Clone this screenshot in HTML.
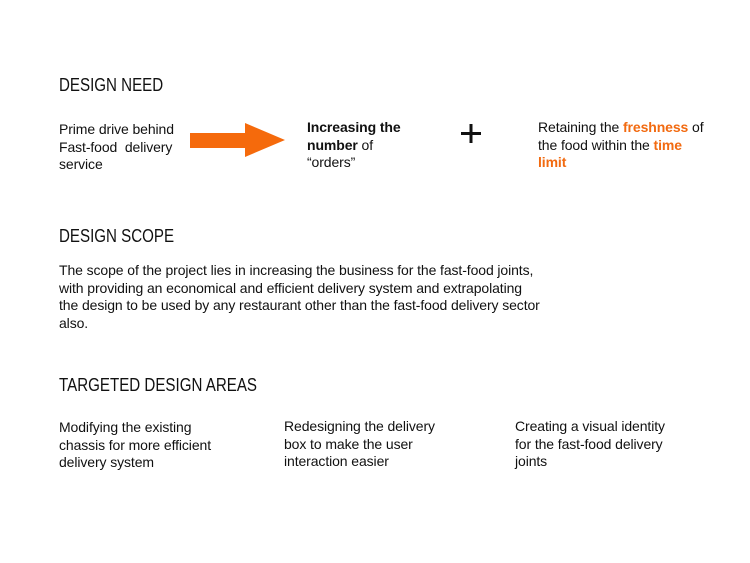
<!DOCTYPE html>
<html><head><meta charset="utf-8"><style>
body{margin:0;width:750px;height:563px;background:#fff;position:relative;font-family:"Liberation Sans",sans-serif;color:#111;overflow:hidden}
.t{position:absolute;font-size:14px;line-height:17.5px;white-space:nowrap;letter-spacing:-0.1px}
.h{position:absolute;font-size:18px;white-space:nowrap;transform:scaleX(0.84);transform-origin:0 0}
.o{color:#f26a10;font-weight:bold}
</style></head><body>
<div class="h" style="left:59px;top:75px">DESIGN NEED</div>
<div class="t" style="left:59px;top:121px">Prime drive behind<br>Fast-food&nbsp; delivery<br>service</div>
<svg style="position:absolute;left:0;top:0" width="750" height="563">
<polygon points="190,133 245,133 245,123 285,140 245,157 245,148 190,148" fill="#f56a0c"/>
<rect x="461" y="132" width="20" height="3" fill="#111"/>
<rect x="469.5" y="124" width="3" height="19" fill="#111"/>
</svg>
<div class="t" style="left:307px;top:119px"><b>Increasing the<br>number</b> of<br>“orders”</div>
<div class="t" style="left:538px;top:119px">Retaining the <span class="o">freshness</span> of<br>the food within the <span class="o">time<br>limit</span></div>
<div class="h" style="left:59px;top:226px">DESIGN SCOPE</div>
<div class="t" style="left:59px;top:262px">The scope of the project lies in increasing the business for the fast-food joints,<br>with providing an economical and efficient delivery system and extrapolating<br>the design to be used by any restaurant other than the fast-food delivery sector<br>also.</div>
<div class="h" style="left:59px;top:375px">TARGETED DESIGN AREAS</div>
<div class="t" style="left:59px;top:419px">Modifying the existing<br>chassis for more efficient<br>delivery system</div>
<div class="t" style="left:284px;top:418px">Redesigning the delivery<br>box to make the user<br>interaction easier</div>
<div class="t" style="left:515px;top:418px">Creating a visual identity<br>for the fast-food delivery<br>joints</div>
</body></html>
